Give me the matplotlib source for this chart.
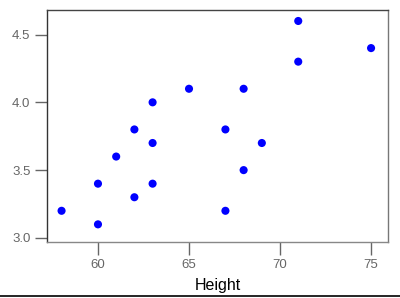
import matplotlib
matplotlib.use("Agg")
import matplotlib.pyplot as plt
from matplotlib.lines import Line2D

height = [58, 60, 60, 61, 62, 62, 63, 63, 63, 65, 67, 67, 68, 68, 69, 71, 71, 75]
value = [3.2, 3.1, 3.4, 3.6, 3.3, 3.8, 3.4, 3.7, 4.0, 4.1, 3.2, 3.8, 3.5, 4.1, 3.7, 4.3, 4.6, 4.4]
xticks = [60, 65, 70, 75]
yticks = [3.0, 3.5, 4.0, 4.5]

plt.rcParams['font.family'] = ['Liberation Sans', 'DejaVu Sans']
fig = plt.figure(figsize=(4.0, 2.98), dpi=100)
ax = fig.add_axes([0.1175, 0.188, 0.8525, 0.778])
ax.scatter(height, value, s=34, color='#0000ff', edgecolors='none', zorder=3)
ax.set_xlim(57.2, 75.93)
ax.set_ylim(2.97, 4.68)
ax.set_xticks(xticks)
ax.set_xticklabels([str(t) for t in xticks])
ax.set_yticks(yticks)
ax.set_yticklabels([f"{t:.1f}" for t in yticks])
ax.tick_params(axis='both', direction='out', colors='#666666', labelsize=9.5, width=1)
ax.tick_params(axis='y', length=9, pad=3)
ax.tick_params(axis='x', length=9, pad=3)
ax.spines['left'].set_color('#333333')
ax.spines['top'].set_color('#444444')
ax.spines['right'].set_color('#777777')
ax.spines['bottom'].set_color('#888888')
for sp in ax.spines.values():
    sp.set_linewidth(1)
ax.set_xlabel('Height', fontsize=11.5, color='black', labelpad=5)
fig.add_artist(Line2D([0, 1], [0.007, 0.007], transform=fig.transFigure, color='black', lw=1.2))
fig.savefig('out.png', dpi=100)
